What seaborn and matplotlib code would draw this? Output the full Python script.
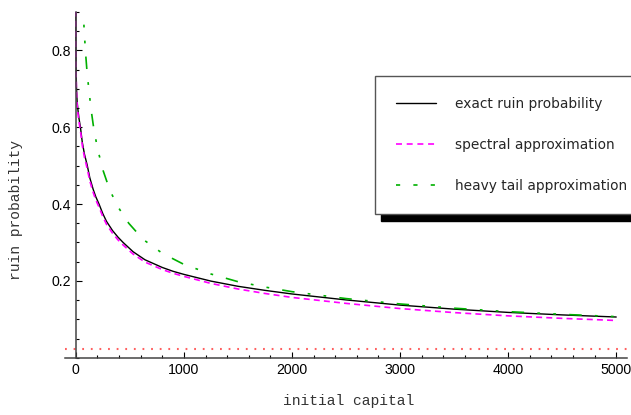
import matplotlib
matplotlib.use("Agg")
import matplotlib.pyplot as plt
import seaborn as sns
from matplotlib.lines import Line2D
from matplotlib.ticker import FixedLocator, MultipleLocator

# values
u_exact = [0, 1, 3, 6, 12, 20, 30, 43, 60, 80, 105, 130, 160, 185, 215, 250, 284,
           340, 390, 438, 530, 640, 800, 900, 1000, 1250, 1500, 1750, 2000, 2500,
           3000, 3500, 4000, 4500, 5000]
p_exact = [0.93, 0.83, 0.75, 0.705, 0.668, 0.645, 0.622, 0.600, 0.561, 0.530,
           0.502, 0.468, 0.439, 0.419, 0.400, 0.375, 0.355, 0.331, 0.314, 0.300,
           0.276, 0.255, 0.235, 0.225, 0.217, 0.1995, 0.186, 0.1754, 0.166, 0.1505,
           0.137, 0.1265, 0.118, 0.1115, 0.106]

u_spectral = u_exact
p_spectral = [0.93, 0.82, 0.74, 0.695, 0.658, 0.635, 0.613, 0.591, 0.553, 0.522,
              0.493, 0.460, 0.431, 0.411, 0.392, 0.3675, 0.3475, 0.324, 0.307,
              0.2934, 0.270, 0.249, 0.2296, 0.2198, 0.2118, 0.1935, 0.179, 0.1673,
              0.157, 0.1415, 0.128, 0.1175, 0.109, 0.1025, 0.097]

u_heavy = [60, 68, 78, 90, 105, 124, 142, 162, 200, 253, 315, 392, 490, 623, 800,
           1000, 1250, 1500, 1750, 2000, 2500, 3000, 3500, 4000, 4500, 5000]
p_heavy = [0.96, 0.905, 0.85, 0.795, 0.74, 0.69, 0.645, 0.605, 0.545, 0.487, 0.436,
           0.392, 0.350, 0.308, 0.272, 0.243, 0.218, 0.198, 0.184, 0.172, 0.154,
           0.140, 0.129, 0.120, 0.113, 0.107]

ruin_level = 0.0225

series_labels = ["exact ruin probability", "spectral approximation",
                 "heavy tail approximation"]
x_ticks = [0, 1000, 2000, 3000, 4000, 5000]
y_ticks = [0.2, 0.4, 0.6, 0.8]

sns.set_theme(style="white")
plt.rcParams["font.family"] = ["Liberation Sans", "DejaVu Sans"]
plt.rcParams["lines.scale_dashes"] = False

fig = plt.figure(figsize=(6.31, 4.15), dpi=100)
ax = fig.add_axes([0.103, 0.138, 0.8907, 0.833])

sns.lineplot(x=u_exact, y=p_exact, color="black", lw=1.0, ax=ax)
sns.lineplot(x=u_spectral, y=p_spectral, color="#ff00ff", lw=1.2,
             linestyle=(0, (4.3, 3.0)), ax=ax)
sns.lineplot(x=u_heavy, y=p_heavy, color="#00b000", lw=1.2,
             linestyle=(0, (9, 9.5, 2, 9.5, 2, 9.5)), ax=ax)
ax.axhline(ruin_level, color="#ff6060", lw=1.5, linestyle=(0, (1.3, 4.9)))

ax.set_xlim(-100, 5100)
ax.set_ylim(0, 0.9)

# axes through the origin, mathematica style
ax.spines[["top", "right"]].set_visible(False)
ax.spines["left"].set_position(("data", 0))
for side in ["left", "bottom"]:
    ax.spines[side].set_color("#444444")
    ax.spines[side].set_linewidth(1.1)

ax.xaxis.set_major_locator(FixedLocator(x_ticks))
ax.xaxis.set_minor_locator(MultipleLocator(200))
ax.yaxis.set_major_locator(FixedLocator(y_ticks))
ax.yaxis.set_minor_locator(MultipleLocator(0.05))
ax.tick_params(which="both", direction="in", color="black", width=0.8,
               bottom=True, left=True, labelsize=10.2, labelcolor="black")
ax.tick_params(which="major", length=4.5, pad=3.6)
ax.tick_params(which="minor", length=2.5)

ax.set_xlabel("initial capital", fontfamily="Liberation Mono", fontsize=10.5,
              color="#333333")
ax.set_ylabel("ruin probability", fontfamily="Liberation Mono", fontsize=10.5,
              color="#333333")
ax.xaxis.set_label_coords(0.505, -0.105)
ax.yaxis.set_label_coords(-0.075, 0.427)

handles = [
    Line2D([], [], color="black", lw=1.0),
    Line2D([], [], color="#ff00ff", lw=1.2, linestyle=(0, (4.3, 3.4))),
    Line2D([], [], color="#00b000", lw=1.2, linestyle=(0, (3, 9.5))),
]
leg = fig.legend(handles, series_labels, loc="upper left",
                 bbox_to_anchor=(375 / 631, 1 - 76 / 415), borderaxespad=0,
                 prop={"family": "DejaVu Sans", "size": 9.9}, frameon=True,
                 fancybox=False, framealpha=1, handlelength=2.9,
                 handletextpad=1.4, labelspacing=1.95, borderpad=1.55,
                 shadow={"ox": 4.3, "oy": -5, "color": "black", "alpha": 1})
leg.get_frame().set_edgecolor("#555555")
leg.get_frame().set_linewidth(1.0)
leg.get_frame().set_facecolor("white")

fig.savefig("out.png", dpi=100)
